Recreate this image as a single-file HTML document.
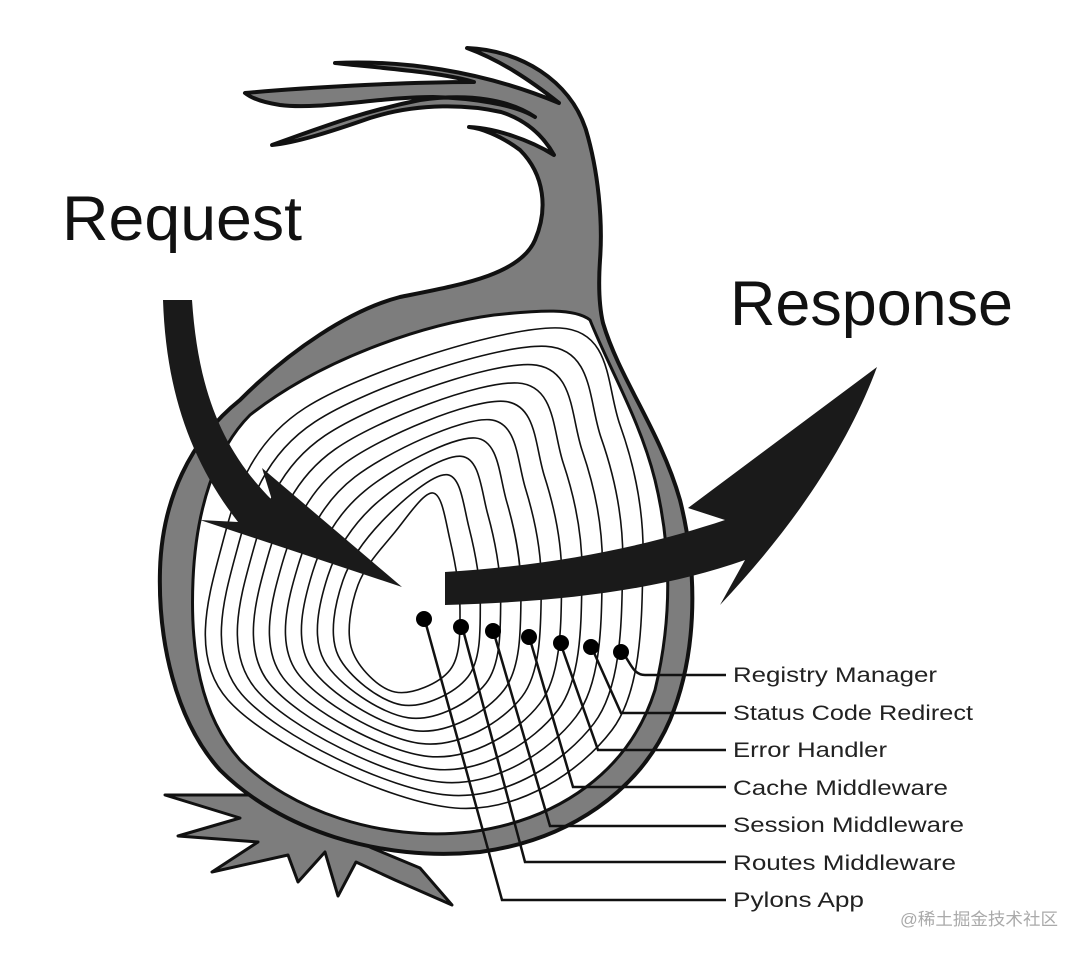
<!DOCTYPE html>
<html><head><meta charset="utf-8"><style>
html,body{margin:0;padding:0;background:#fff;}
svg{display:block;}
</style></head><body>
<svg id="s" width="1084" height="954" viewBox="0 0 1084 954" xmlns="http://www.w3.org/2000/svg">
<defs>
<clipPath id="inner"><path d="M 250,415 C 320,360 420,325 494,315 C 540,310 575,308 590,320 C 610,370 640,420 655,480 C 672,550 672,620 655,690 C 630,770 560,820 470,832 C 380,842 290,810 240,760 C 200,715 190,650 193,580 C 196,510 215,450 250,415 Z"/></clipPath>
</defs>
<!-- roots -->
<path d="M 290,795 L 165,795 L 240,818 L 178,836 L 258,842 L 212,872 L 288,855 L 298,882 L 325,852 L 338,896 L 356,862 L 395,880 L 452,905 L 420,868 L 372,848 L 330,826 Z" fill="#7d7d7d" stroke="#111" stroke-width="3" stroke-linejoin="round"/>
<!-- body + neck + leaves -->
<path d="M400,297 C 460,285 520,275 535,240 C 548,210 545,175 520,150 C 500,135 480,128 469,127 C 495,128 530,140 554,155 C 540,130 520,118 501,112 C 470,105 420,102 370,118 C 330,132 295,143 272,145 C 320,128 360,112 420,100 C 470,93 510,100 535,117 C 515,104 470,98 433,97 C 380,97 320,110 280,105 C 260,102 250,97 245,93 C 300,88 400,82 474,82 C 440,72 380,68 335,63 C 400,60 480,70 559,103 C 530,80 500,60 467,48 C 520,50 570,80 586,130 C 598,170 603,220 600,260 C 598,290 600,310 603,323 C 620,380 660,430 680,500 C 700,580 695,660 670,720 C 640,790 570,840 480,852 C 380,862 280,830 220,770 C 175,720 158,640 160,570 C 162,500 190,440 240,400 C 290,350 350,310 400,297 Z" fill="#7d7d7d" stroke="#111" stroke-width="4" stroke-linejoin="round"/>
<path d="M 250,415 C 320,360 420,325 494,315 C 540,310 575,308 590,320 C 610,370 640,420 655,480 C 672,550 672,620 655,690 C 630,770 560,820 470,832 C 380,842 290,810 240,760 C 200,715 190,650 193,580 C 196,510 215,450 250,415 Z" fill="#fff" stroke="#111" stroke-width="3"/>
<g id="rings" clip-path="url(#inner)" fill="none" stroke="#111" stroke-width="1.6"></g>
<!-- arrows -->
<path d="M163,300 L192,300 C 198,390 222,450 272,500 L 262,468 L 402,587 L 200,520 L 238,522 C 190,460 166,390 163,300 Z" fill="#1a1a1a"/>
<path d="M445,572 C 560,565 650,545 725,520 L 688,508 L 877,367 C 850,440 800,520 720,605 L 745,560 C 660,590 560,602 445,605 Z" fill="#1a1a1a"/>
<!-- leader lines -->
<g fill="none" stroke="#111" stroke-width="2.5">
<path d="M621,651 C 630,660 632,675 645,675 L 726,675"/>
<path d="M591,646 L 621,713 L 726,713"/>
<path d="M560,642 L 598,750 L 726,750"/>
<path d="M529,636 L 573,787 L 726,787"/>
<path d="M493,630 L 550,826 L 726,826"/>
<path d="M462,626 L 525,862 L 726,862"/>
<path d="M424,617 L 502,900 L 726,900"/>
</g>
<g fill="#000">
<circle cx="424" cy="619" r="8"/><circle cx="461" cy="627" r="8"/><circle cx="493" cy="631" r="8"/>
<circle cx="529" cy="637" r="8"/><circle cx="561" cy="643" r="8"/><circle cx="591" cy="647" r="8"/><circle cx="621" cy="652" r="8"/>
</g>
<g font-family="Liberation Sans, sans-serif" fill="#111">
<text x="62" y="240" font-size="63" textLength="240" lengthAdjust="spacingAndGlyphs">Request</text>
<text x="730" y="325" font-size="63" textLength="283" lengthAdjust="spacingAndGlyphs">Response</text>
</g>
<g font-family="Liberation Sans, sans-serif" font-size="21" fill="#222">
<text x="733" y="682" textLength="204" lengthAdjust="spacingAndGlyphs">Registry Manager</text>
<text x="733" y="720" textLength="240" lengthAdjust="spacingAndGlyphs">Status Code Redirect</text>
<text x="733" y="757" textLength="154" lengthAdjust="spacingAndGlyphs">Error Handler</text>
<text x="733" y="795" textLength="215" lengthAdjust="spacingAndGlyphs">Cache Middleware</text>
<text x="733" y="832" textLength="231" lengthAdjust="spacingAndGlyphs">Session Middleware</text>
<text x="733" y="870" textLength="223" lengthAdjust="spacingAndGlyphs">Routes Middleware</text>
<text x="733" y="907" textLength="131" lengthAdjust="spacingAndGlyphs">Pylons App</text>
</g>
<text x="900" y="925" font-family="Liberation Sans, 'Noto Sans CJK SC', sans-serif" font-size="17" fill="#aaa" textLength="158" lengthAdjust="spacingAndGlyphs">@稀土掘金技术社区</text>
</svg>
<script>
(function(){
var A=[[433,493],[450,540],[460,610],[450,670],[395,692],[352,650],[358,585],[395,532]];
var B=[[560,328],[620,425],[643,560],[612,730],[455,808],[228,700],[222,545],[305,408]];
var g=document.getElementById('rings');
var n=10;
for(var k=0;k<n;k++){
  var t=k/(n-1);
  var P=A.map(function(a,i){return [a[0]+(B[i][0]-a[0])*t,a[1]+(B[i][1]-a[1])*t];});
  var m=P.length,d='M'+P[0][0].toFixed(1)+','+P[0][1].toFixed(1);
  for(var i=0;i<m;i++){
    var p0=P[(i-1+m)%m],p1=P[i],p2=P[(i+1)%m],p3=P[(i+2)%m];
    var c1=[p1[0]+(p2[0]-p0[0])/6,p1[1]+(p2[1]-p0[1])/6];
    var c2=[p2[0]-(p3[0]-p1[0])/6,p2[1]-(p3[1]-p1[1])/6];
    d+=' C'+c1[0].toFixed(1)+','+c1[1].toFixed(1)+' '+c2[0].toFixed(1)+','+c2[1].toFixed(1)+' '+p2[0].toFixed(1)+','+p2[1].toFixed(1);
  }
  var p=document.createElementNS('http://www.w3.org/2000/svg','path');
  p.setAttribute('d',d+'Z');
  g.appendChild(p);
}
})();
</script>
</body></html>
